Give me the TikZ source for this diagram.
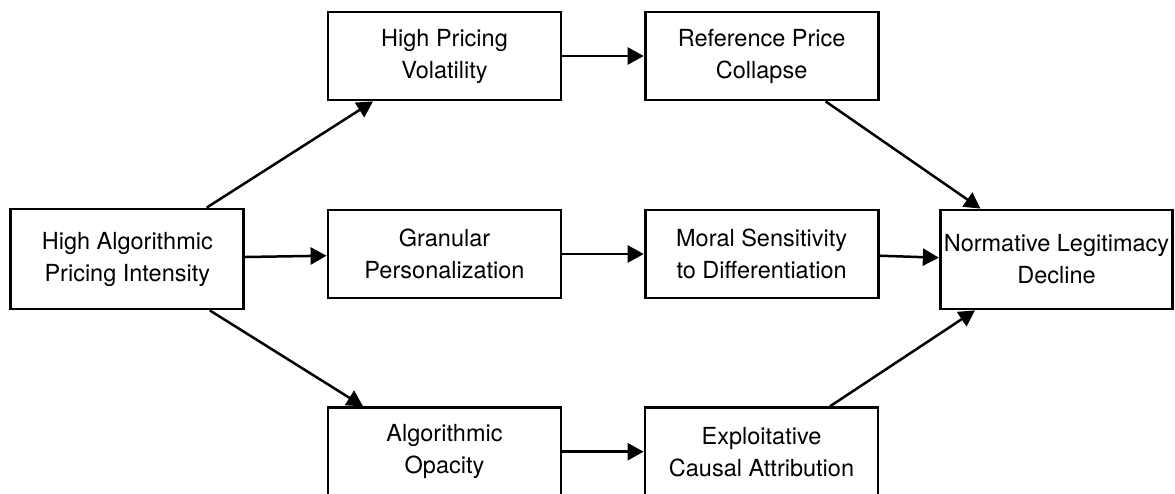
\documentclass[tikz,border=0pt]{standalone}
\usepackage{fontspec}
\setmainfont{TeX Gyre Heros}
\usetikzlibrary{arrows.meta}
\tikzset{
  box/.style={draw=black, line width=2.8pt, fill=white, inner sep=0pt, align=center,
    minimum width=233pt, minimum height=88pt,
    font=\fontsize{23.5}{32}\selectfont},
  arr/.style={line width=2.5pt, -{Triangle[length=16pt,width=17pt]}}
}
\begin{document}
\begin{tikzpicture}[x=1pt,y=-1pt]
\useasboundingbox (0,0) rectangle (1175,493);
\clip (0,0) rectangle (1175,493);
\fill[white] (0,0) rectangle (1175,493);
\node[box, minimum height=100pt] (hapi) at (127.3,259) {High Algorithmic\\Pricing Intensity};
\node[box] (hpv) at (444.5,56) {High Pricing\\Volatility};
\node[box] (gp) at (444.5,254) {Granular\\Personalization};
\node[box] (ao) at (444.5,451.7) {Algorithmic\\Opacity};
\node[box] (rpc) at (761.6,56) {Reference Price\\Collapse};
\node[box] (msd) at (761.6,254) {Moral Sensitivity\\to Differentiation};
\node[box] (eca) at (761.5,451.7) {Exploitative\\Causal Attribution};
\node[box, minimum width=232.5pt, minimum height=99pt] (nld) at (1056.5,259.5) {Normative Legitimacy\\Decline};

\draw[arr] ([xshift=79.4pt]hapi.north) -- ([xshift=-71.5pt]hpv.south);
\draw[arr] ([yshift=2pt]hapi.east) -- ([yshift=-1.7pt]gp.west);
\draw[arr] ([xshift=82.5pt]hapi.south) -- ([xshift=-81.5pt]ao.north);
\draw[arr] (hpv.east) -- (rpc.west);
\draw[arr] (gp.east) -- (msd.west);
\draw[arr] (ao.east) -- (eca.west);
\draw[arr] ([xshift=64pt]rpc.south) -- ([xshift=-76pt]nld.north);
\draw[arr] ([yshift=-1.7pt]msd.east) -- ([yshift=1.8pt]nld.west);
\draw[arr] ([xshift=68.5pt]eca.north) -- ([xshift=-81.5pt]nld.south);
\end{tikzpicture}
\end{document}
